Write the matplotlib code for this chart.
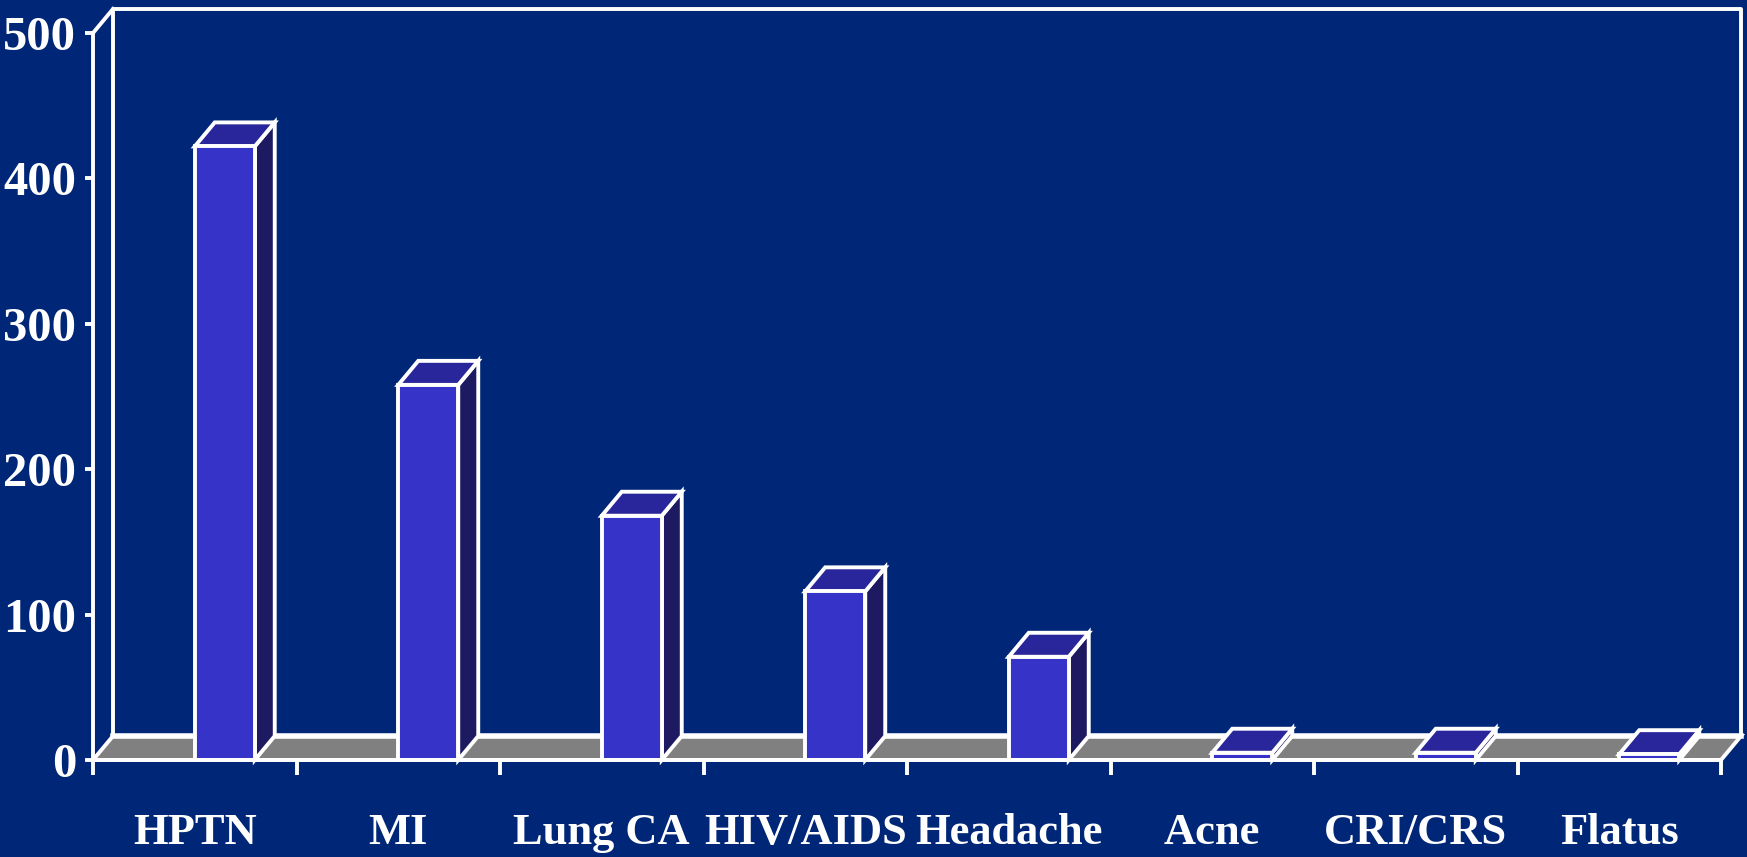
import matplotlib.pyplot as plt
from matplotlib.patches import Polygon

# data
categories = ['HPTN', 'MI', 'Lung CA', 'HIV/AIDS', 'Headache', 'Acne', 'CRI/CRS', 'Flatus']
values = [422, 258, 168, 116, 71, 5, 5, 4]
yticks = [0, 100, 200, 300, 400, 500]

bg = '#002677'
front_col = '#3634C8'
top_col = '#29259A'
side_col = '#1E1A62'
floor_col = '#808080'

fig = plt.figure(figsize=(17.47, 8.57), dpi=100, facecolor=bg)
ax = fig.add_axes([93 / 1747, 97 / 857, 1628 / 1747, 727 / 857])
ax.set_facecolor(bg)
ax.set_xlim(0, len(categories))
ax.set_ylim(0, 500)

# 3d depth offset (about 20px right, 24px up)
dx = 20 / 203.5
dy = 24 / 1.454

lw = 2.8
ymax = 500

# floor
floor = Polygon([(0, 0), (8, 0), (8 + dx, dy), (dx, dy)], closed=True,
                facecolor=floor_col, edgecolor='white', lw=lw, clip_on=False, zorder=1)
ax.add_patch(floor)
ax.plot([dx, 8 + dx], [dy, dy], color='white', lw=lw + 1.2, clip_on=False, zorder=1)

# back wall and side wall lines
ax.plot([dx, dx, 8 + dx, 8 + dx], [dy, ymax + dy, ymax + dy, dy], color='white', lw=lw,
        clip_on=False, zorder=1)
ax.plot([0, dx], [ymax, ymax + dy], color='white', lw=lw, clip_on=False, zorder=1)

# bars as simple 3d boxes
bw = 60 / 203.5
for i, v in enumerate(values):
    x0 = i + 0.5
    x1 = x0 + bw
    side = Polygon([(x1, 0), (x1, v), (x1 + dx, v + dy), (x1 + dx, dy)], closed=True,
                   facecolor=side_col, edgecolor='white', lw=lw, clip_on=False, zorder=3)
    top = Polygon([(x0, v), (x1, v), (x1 + dx, v + dy), (x0 + dx, v + dy)], closed=True,
                  facecolor=top_col, edgecolor='white', lw=lw, clip_on=False, zorder=3)
    front = Polygon([(x0, 0), (x1, 0), (x1, v), (x0, v)], closed=True,
                    facecolor=front_col, edgecolor='white', lw=lw, clip_on=False, zorder=4)
    ax.add_patch(side)
    ax.add_patch(top)
    ax.add_patch(front)

for s in ['top', 'right']:
    ax.spines[s].set_visible(False)
for s in ['left', 'bottom']:
    ax.spines[s].set_color('white')
    ax.spines[s].set_linewidth(lw)
    ax.spines[s].set_zorder(5)

font = dict(family=['Liberation Serif', 'DejaVu Serif'], weight='bold', color='white')

ax.set_yticks(yticks)
ax.set_yticklabels([str(t) for t in yticks], fontdict=font, fontsize=35)
ax.tick_params(axis='y', length=6, width=lw, color='white', pad=6)

ax.set_xticks(range(len(categories) + 1))
ax.set_xticklabels([])
ax.tick_params(axis='x', which='major', length=11, width=lw, color='white')

# category names centred under each slot
for i, name in enumerate(categories):
    ax.text(i + 0.5, -0.115, name, transform=ax.get_xaxis_transform(),
            ha='center', va='baseline', fontsize=32, **font)

fig.savefig('out.png', dpi=100, facecolor=bg)
